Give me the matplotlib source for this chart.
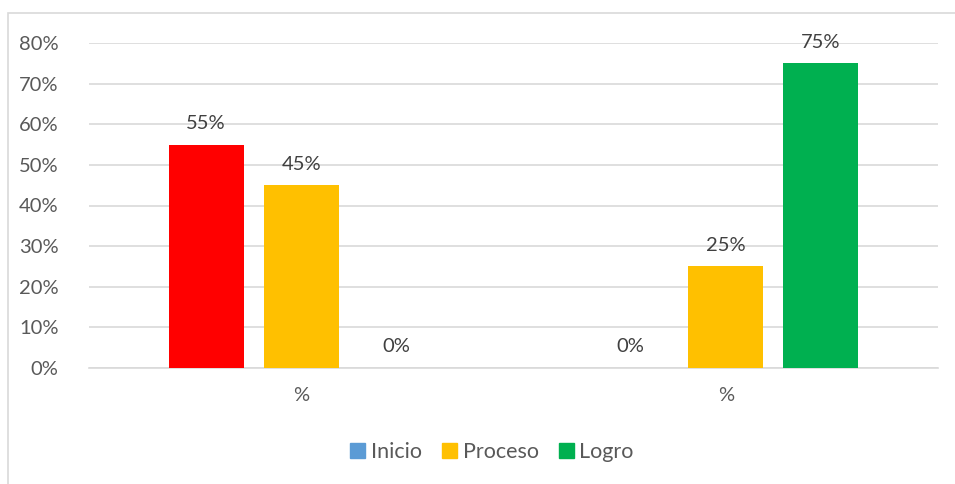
import matplotlib.pyplot as plt
import matplotlib.patches as mpatches
import numpy as np

plt.rcParams['font.family'] = ['Lato', 'DejaVu Sans']

categories = ['%', '%']
series = ['Inicio', 'Proceso', 'Logro']
inicio = [0.55, 0.0]
proceso = [0.45, 0.25]
logro = [0.0, 0.75]
yticks = [0, 0.1, 0.2, 0.3, 0.4, 0.5, 0.6, 0.7, 0.8]

colors = {'Inicio': '#5B9BD5', 'Proceso': '#FFC000', 'Logro': '#00B050'}
# first point of Inicio is coloured red in the original
inicio_colors = ['#FF0000', '#5B9BD5']

fig = plt.figure(figsize=(9.55, 4.84), dpi=100)
ax = fig.add_axes([89 / 955, 1 - 368 / 484, (938 - 89) / 955, (368 - 43) / 484])

# outer chart frame (cut off on the right/bottom)
fig.patches.append(mpatches.Rectangle((8 / 955, -0.1), 1.1, 1 - 13 / 484 + 0.1,
                                      transform=fig.transFigure, fill=False,
                                      edgecolor='#D9D9D9', linewidth=1.2))

x = np.arange(len(categories))
w = 0.177
step = 0.224
data = [inicio, proceso, logro]
for i, (name, vals) in enumerate(zip(series, data)):
    cols = inicio_colors if name == 'Inicio' else [colors[name]] * len(vals)
    pos = x + (i - 1) * step
    ax.bar(pos, vals, width=w, color=cols, zorder=3)
    for px, v in zip(pos, vals):
        ax.annotate(f'{v * 100:.0f}%', (px, v), xytext=(0, 9), textcoords='offset points',
                    ha='center', va='bottom', fontsize=14.5, color='#404040')

ax.set_xlim(-0.5, 1.5)
ax.set_ylim(0, 0.8)
ax.set_yticks(yticks)
ax.set_yticklabels([f'{t * 100:.0f}%' for t in yticks])
ax.set_xticks(x)
ax.set_xticklabels(categories)
ax.yaxis.grid(True, color='#D9D9D9', linewidth=1.2, zorder=0)
ax.tick_params(length=0, labelsize=14.5, labelcolor='#595959')
ax.tick_params(axis='y', pad=22)
ax.tick_params(axis='x', pad=14)
for s in ['top', 'right', 'left']:
    ax.spines[s].set_visible(False)
ax.spines['bottom'].set_color('#D9D9D9')
ax.spines['bottom'].set_linewidth(1.2)

handles = [mpatches.Patch(color=colors[s], label=s) for s in series]
fig.legend(handles=handles, loc='center', bbox_to_anchor=(492 / 955, 1 - 452 / 484),
           ncol=3, frameon=False, fontsize=15.5, handlelength=0.7, handleheight=0.7,
           handletextpad=0.25, columnspacing=0.95, labelcolor='#595959')

fig.savefig('out.png', dpi=100)
